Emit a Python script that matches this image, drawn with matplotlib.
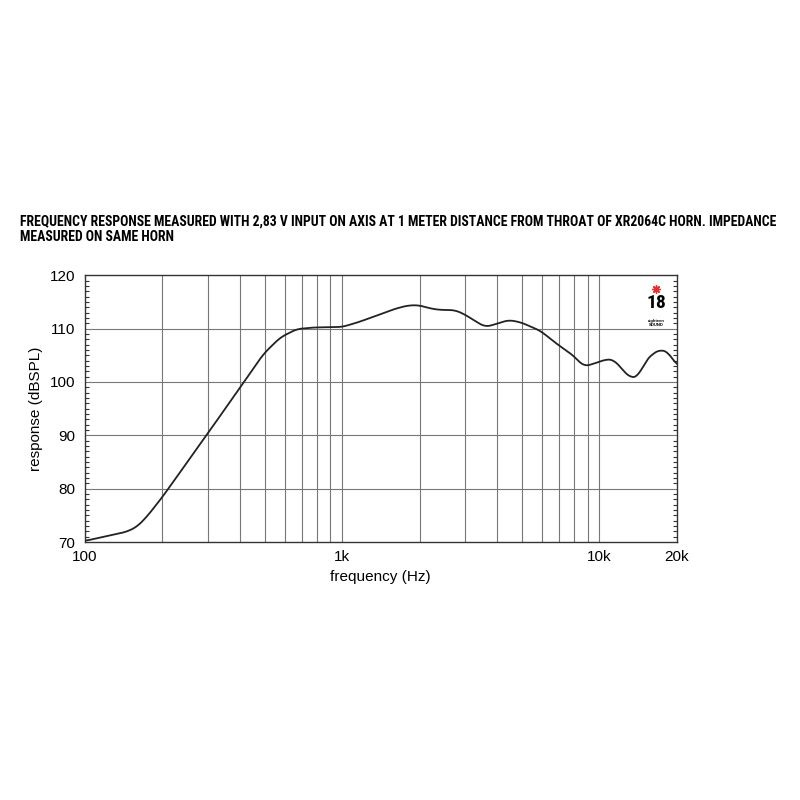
import numpy as np
import matplotlib
matplotlib.use('Agg')
import matplotlib.pyplot as plt
from matplotlib import font_manager
from matplotlib.ticker import FixedLocator, MultipleLocator, NullFormatter

# frequency response
freq = [100, 145, 159, 174, 200, 234, 300, 401, 494, 574, 666, 773, 1000, 1141,
        1324, 1584, 1785, 1975, 2234, 2406, 2753, 3010, 3293, 3600, 3938, 4437,
        4930, 5891, 6846, 7943, 8690, 9506, 10550, 11370, 12250, 13210, 14220,
        15110, 16040, 17270, 18620, 20000]
spl = [70.2, 71.9, 72.8, 74.7, 78.4, 83.0, 90.3, 98.9, 105.2, 108.3, 109.9, 110.2,
       110.3, 111.1, 112.2, 113.6, 114.3, 114.4, 113.7, 113.5, 113.45, 112.6, 111.4,
       110.3, 110.8, 111.6, 111.2, 109.6, 107.1, 104.9, 102.9, 103.4, 104.2, 104.2,
       102.4, 100.7, 101.1, 103.9, 105.2, 106.1, 105.5, 103.0]

grid_freqs = [200, 300, 400, 500, 600, 700, 800, 900, 1000,
              2000, 3000, 4000, 5000, 6000, 7000, 8000, 9000, 10000]
xtick_pos = [100, 1000, 10000, 20000]
xtick_lab = ['100', '1k', '10k', '20k']
ytick_pos = [70, 80, 90, 100, 110, 120]

title = ('FREQUENCY RESPONSE MEASURED WITH 2,83 V INPUT ON AXIS AT 1 METER DISTANCE FROM THROAT OF XR2064C HORN. IMPEDANCE\n'
         'MEASURED ON SAME HORN')

plt.rcParams['font.family'] = ['Liberation Sans', 'DejaVu Sans']

# pick a narrow face for the title if one is installed
names = {f.name for f in font_manager.fontManager.ttflist}
narrow = 'Liberation Sans'
title_size = 7.3
for cand in ['Liberation Sans Narrow', 'Roboto Condensed', 'DejaVu Sans Condensed']:
    if cand in names:
        narrow = cand
        title_size = 9.9
        break

fig = plt.figure(figsize=(8, 8), dpi=100)
ax = fig.add_axes([0.106, 0.3225, 0.740, 0.3335])

# smooth the read points in log space for a clean curve
lf = np.log10(freq)
xs = np.linspace(lf[0], lf[-1], 800)
ys = np.interp(xs, lf, spl)
k = np.ones(15) / 15
ys_s = np.convolve(np.pad(ys, 7, mode='edge'), k, mode='valid')
ax.plot(10 ** xs, ys_s, color='#222222', lw=1.3, zorder=3)

ax.set_xscale('log')
ax.set_xlim(100, 20000)
ax.set_ylim(70, 120)

for g in grid_freqs:
    ax.axvline(g, color='#777777', lw=0.8, zorder=1)
for t in ytick_pos[1:-1]:
    ax.axhline(t, color='#777777', lw=0.8, zorder=1)

ax.xaxis.set_major_locator(FixedLocator(xtick_pos))
ax.set_xticklabels(xtick_lab, fontsize=11)
ax.xaxis.set_minor_formatter(NullFormatter())
ax.tick_params(axis='x', which='both', length=0, pad=6)

ax.set_yticks(ytick_pos)
ax.set_yticklabels([str(t) for t in ytick_pos], fontsize=11)
ax.yaxis.set_minor_locator(MultipleLocator(1))
ax.tick_params(axis='y', which='major', direction='in', length=0, pad=7,
               left=True, right=True)
ax.tick_params(axis='y', which='minor', direction='in', length=3, width=0.8,
               left=True, right=True, color='#333333')

for s in ax.spines.values():
    s.set_color('#333333')
    s.set_linewidth(1.0)

ax.set_xlabel('frequency (Hz)', fontsize=11, labelpad=4)
ax.set_ylabel('response (dBSPL)', fontsize=11, labelpad=5)

fig.text(0.025, 0.695, title, fontsize=title_size, fontweight='bold',
         family=[narrow, 'DejaVu Sans'],
         va='bottom', ha='left', linespacing=1.1)

# small logo in the top right corner
ax.plot([0.965], [0.95], marker=(8, 2, 0), color='#e03030', ms=6,
        transform=ax.transAxes, zorder=4)
ax.text(0.965, 0.93, '18', transform=ax.transAxes, ha='center', va='top',
        fontsize=14, fontweight='bold', family=[narrow, 'DejaVu Sans'])
ax.text(0.965, 0.835, 'eighteen\nSOUND', transform=ax.transAxes, ha='center', va='top',
        fontsize=3, fontweight='bold', linespacing=1.0)

fig.savefig('out.png', dpi=100)
